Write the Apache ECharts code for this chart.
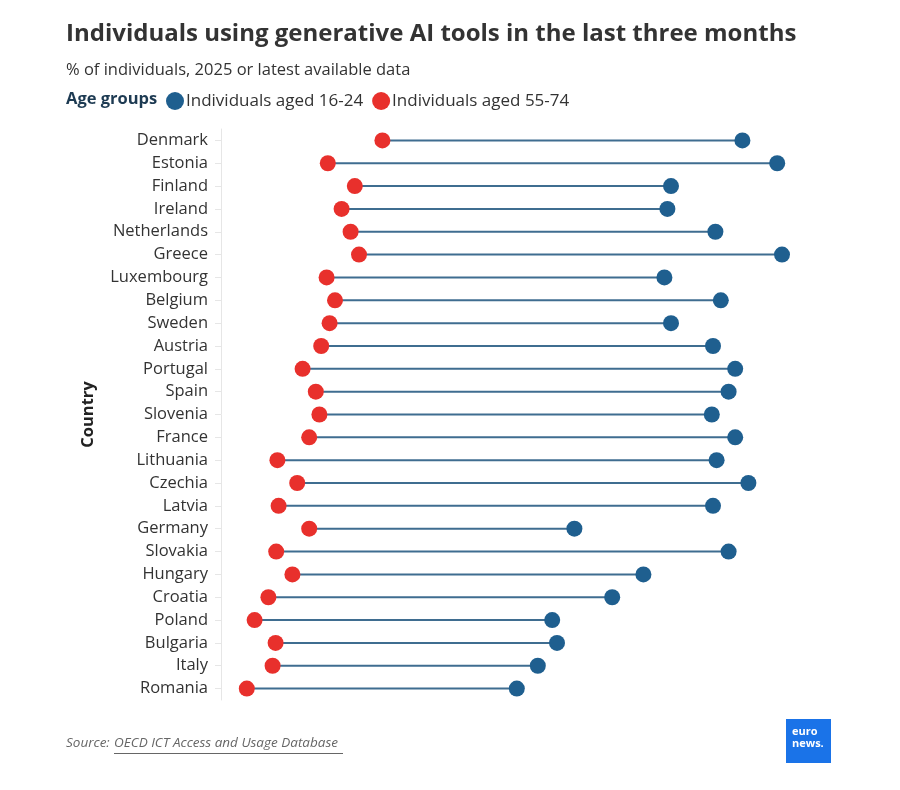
<!DOCTYPE html>
<html>
<head>
<meta charset="utf-8">
<script src="https://cdn.jsdelivr.net/npm/echarts@6/dist/echarts.min.js"></script>
<style>
  html, body { margin: 0; padding: 0; background: #fff; }
  #chart { width: 900px; height: 790px; }
</style>
</head>
<body>
<div id="chart"></div>
<script>
const countries = ['Denmark', 'Estonia', 'Finland', 'Ireland', 'Netherlands', 'Greece', 'Luxembourg',
  'Belgium', 'Sweden', 'Austria', 'Portugal', 'Spain', 'Slovenia', 'France', 'Lithuania', 'Czechia',
  'Latvia', 'Germany', 'Slovakia', 'Hungary', 'Croatia', 'Poland', 'Bulgaria', 'Italy', 'Romania'];

// % of individuals aged 16-24
const young = [86.9, 92.7, 75.0, 74.4, 82.4, 93.5, 73.9, 83.3, 75.0, 82.0, 85.7, 84.6, 81.8,
  85.7, 82.6, 87.9, 82.0, 58.9, 84.6, 70.4, 65.2, 55.2, 56.0, 52.8, 49.3];

// % of individuals aged 55-74
const older = [26.9, 17.8, 22.3, 20.1, 21.6, 23.0, 17.6, 19.0, 18.1, 16.7, 13.6, 15.8, 16.4,
  14.7, 9.4, 12.7, 9.6, 14.7, 9.2, 11.9, 7.9, 5.6, 9.1, 8.6, 4.3];

const BLUE = '#1f5f8f';
const RED = '#e8302c';
const FONT = '"Open Sans", "Noto Sans", sans-serif';

const chart = echarts.init(document.getElementById('chart'));

const option = {
  animation: false,
  backgroundColor: '#fff',
  textStyle: { fontFamily: FONT },
  grid: { left: 221, right: 79, top: 129, height: 571 },
  legend: {
    left: 161,
    top: 87,
    icon: 'circle',
    itemWidth: 18,
    itemHeight: 18,
    itemGap: 9,
    selectedMode: false,
    textStyle: { color: '#333', fontSize: 17, fontFamily: FONT, padding: [0, 0, 0, -3] },
    data: ['Individuals aged 16-24', 'Individuals aged 55-74'],
  },
  xAxis: {
    type: 'value',
    min: 0,
    max: 100,
    show: false,
  },
  yAxis: {
    type: 'category',
    inverse: true,
    data: countries,
    name: 'Country',
    nameLocation: 'middle',
    nameRotate: 90,
    nameGap: 124,
    nameTextStyle: { color: '#222', fontSize: 16.5, fontWeight: 'bold', fontFamily: FONT },
    axisLine: { lineStyle: { color: '#e6e6e6' } },
    axisTick: { show: true, length: 6, alignWithLabel: true, lineStyle: { color: '#e6e6e6' } },
    axisLabel: { color: '#333', fontSize: 16.5, margin: 13, fontFamily: FONT },
    splitLine: { show: false },
  },
  graphic: [
    {
      type: 'text', left: 66, top: 22,
      style: { text: 'Individuals using generative AI tools in the last three months', fill: '#333', font: `bold 24px ${FONT}` },
    },
    {
      type: 'text', left: 66, top: 62,
      style: { text: '% of individuals, 2025 or latest available data', fill: '#333', font: `16.5px ${FONT}` },
    },
    {
      type: 'text', left: 66, top: 91,
      style: { text: 'Age groups', fill: '#1d3a52', font: `bold 16.5px ${FONT}` },
    },
    {
      type: 'text', left: 66, top: 736,
      style: { text: 'Source: ', fill: '#666', font: `italic 13.5px ${FONT}` },
    },
    {
      type: 'text', left: 114, top: 736,
      style: { text: 'OECD ICT Access and Usage Database', fill: '#666', font: `italic 13.5px ${FONT}` },
    },
    {
      type: 'rect', left: 114, top: 753,
      shape: { width: 229, height: 1 },
      style: { fill: '#666' },
    },
    {
      type: 'rect', left: 786, top: 719,
      shape: { width: 45, height: 44 },
      style: { fill: '#1a73e8' },
    },
    {
      type: 'text', left: 792, top: 726,
      style: { text: 'euro\nnews.', fill: '#fff', font: `bold 11px ${FONT}`, lineHeight: 12 },
    },
  ],
  series: [
    {
      type: 'custom',
      name: 'range',
      silent: true,
      data: countries.map((c, i) => [older[i], young[i], i]),
      encode: { x: [0, 1], y: 2 },
      renderItem(params, api) {
        const a = api.coord([api.value(0), api.value(2)]);
        const b = api.coord([api.value(1), api.value(2)]);
        return {
          type: 'line',
          shape: { x1: a[0], y1: a[1], x2: b[0], y2: b[1] },
          style: { stroke: '#3f6d90', lineWidth: 2 },
        };
      },
      z: 1,
    },
    {
      type: 'scatter',
      name: 'Individuals aged 16-24',
      data: young.map((v, i) => [v, i]),
      symbolSize: 16,
      itemStyle: { color: BLUE, opacity: 1 },
      z: 2,
    },
    {
      type: 'scatter',
      name: 'Individuals aged 55-74',
      data: older.map((v, i) => [v, i]),
      symbolSize: 16,
      itemStyle: { color: RED, opacity: 1 },
      z: 2,
    },
  ],
};

chart.setOption(option);
</script>
</body>
</html>
